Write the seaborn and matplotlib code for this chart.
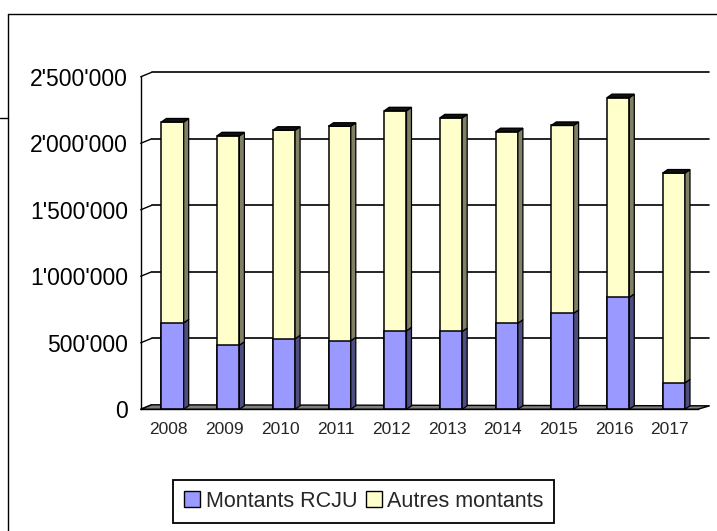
import matplotlib
matplotlib.use("Agg")
import matplotlib.pyplot as plt
import matplotlib.patches as mpatches
from matplotlib.lines import Line2D
from matplotlib.transforms import ScaledTranslation
import pandas as pd
import seaborn as sns

# DATA
years = ["2008", "2009", "2010", "2011", "2012", "2013", "2014", "2015", "2016", "2017"]
montants_rcju = [650000, 482000, 530000, 515000, 590000, 585000, 647000, 721000, 841000, 199000]
autres_montants = [1510000, 1574000, 1568000, 1613000, 1654000, 1606000, 1440000, 1413000, 1502000, 1577000]
y_ticks = [0, 500000, 1000000, 1500000, 2000000, 2500000]
series_names = ["Montants RCJU", "Autres montants"]

blue = "#9999ff"
yellow = "#ffffcc"
blue_side = "#4d4d80"
yellow_side = "#808066"

sns.set_style("white")
plt.rcParams["font.family"] = ["Liberation Sans", "DejaVu Sans"]

df = pd.DataFrame({"year": years, "rcju": montants_rcju, "autres": autres_montants})
df["total"] = df["rcju"] + df["autres"]

fig = plt.figure(figsize=(7.17, 5.31), dpi=100)
ax = fig.add_axes([0.19623, 0.22919, 0.77685, 0.62618])

# stacked bars: totals first (yellow), RCJU part on top (blue)
sns.barplot(data=df, x="year", y="total", order=years, color=yellow, saturation=1,
            width=0.4, edgecolor="black", linewidth=1.1, ax=ax, zorder=3)
n_yellow = len(ax.patches)
sns.barplot(data=df, x="year", y="rcju", order=years, color=blue, saturation=1,
            width=0.4, edgecolor="black", linewidth=1.1, ax=ax, zorder=3)

ax.set_xlim(-0.5, len(years) - 0.5)
ax.set_ylim(0, 2500000)
ax.set_xlabel("")
ax.set_ylabel("")

# ticks
ax.set_yticks(y_ticks)
ax.set_yticklabels([f"{v:,}".replace(",", "'") for v in y_ticks], fontsize=16.5)
ax.tick_params(axis="y", length=5.8, width=1.0, pad=3.2, colors="black")
ax.set_xticks(range(len(years)))
ax.set_xticklabels(years, fontsize=12.5)
ax.set_xticks([i - 0.5 for i in range(len(years) + 1)], minor=True)
ax.tick_params(axis="x", which="major", length=0, pad=9)
ax.tick_params(axis="x", which="minor", length=4.5, width=1.0, color="black")

for s in ["top", "right"]:
    ax.spines[s].set_visible(False)
for s in ["left", "bottom"]:
    ax.spines[s].set_color("black")
    ax.spines[s].set_linewidth(1.0)
    ax.spines[s].set_zorder(4)

# 3D look (pixel offsets)
dpi = fig.dpi
wall_dx, wall_dy = 11, 4.5
bar_dx, bar_dy = 5, 3.5
shift = ScaledTranslation(4 / dpi, 0, fig.dpi_scale_trans)


def px(x, y):
    return ax.transData.transform((x, y))


x0, x1 = ax.get_xlim()
# back wall gridlines and left wall slants
for v in y_ticks:
    fx0, fy = px(x0, v)
    fx1, _ = px(x1, v)
    if v > 0:
        ax.add_line(Line2D([fx0 + wall_dx, fx1 + wall_dx], [fy + wall_dy, fy + wall_dy],
                           transform=None, color="black", lw=1.2, zorder=1, clip_on=False))
    ax.add_line(Line2D([fx0, fx0 + wall_dx], [fy, fy + wall_dy],
                       transform=None, color="black", lw=1.0, zorder=1, clip_on=False))

# floor
fx0, fy = px(x0, 0)
fx1, _ = px(x1, 0)
floor = mpatches.Polygon([(fx0, fy), (fx1, fy), (fx1 + wall_dx + 1, fy + wall_dy - 1),
                          (fx0 + wall_dx, fy + wall_dy)], closed=True, transform=None,
                         facecolor="#808080", edgecolor="black", lw=1.0, zorder=2, clip_on=False)
ax.add_patch(floor)

# shift bars and add side / top faces
yellow_bars = ax.patches[:n_yellow]
blue_bars = ax.patches[n_yellow:n_yellow + len(years)]
for yb, bb in zip(yellow_bars, blue_bars):
    for p in (yb, bb):
        p.set_transform(ax.transData + shift)
    bx0, by0 = (ax.transData + shift).transform((bb.get_x(), 0))
    bx1, bmid = (ax.transData + shift).transform((bb.get_x() + bb.get_width(), bb.get_height()))
    _, btop = (ax.transData + shift).transform((0, yb.get_height()))
    for lo, hi, col in [(by0, bmid, blue_side), (bmid, btop, yellow_side)]:
        side = mpatches.Polygon([(bx1, lo), (bx1 + bar_dx, lo + bar_dy), (bx1 + bar_dx, hi + bar_dy),
                                 (bx1, hi)], closed=True, transform=None, facecolor=col,
                                edgecolor="black", lw=0.9, zorder=3, clip_on=False)
        ax.add_patch(side)
    top = mpatches.Polygon([(bx0, btop), (bx1, btop), (bx1 + bar_dx, btop + bar_dy),
                            (bx0 + bar_dx, btop + bar_dy)], closed=True, transform=None,
                           facecolor="#111111", edgecolor="black", lw=1.0, zorder=3, clip_on=False)
    ax.add_patch(top)

# legend
handles = [mpatches.Patch(facecolor=blue, edgecolor="black", lw=1.0),
           mpatches.Patch(facecolor=yellow, edgecolor="black", lw=1.0)]
leg = fig.legend(handles, series_names, loc="center", bbox_to_anchor=(0.5075, 0.0559),
                 ncol=2, frameon=True, fancybox=False, shadow=False, framealpha=1,
                 edgecolor="black", fontsize=15.5, handlelength=0.75, handleheight=0.75,
                 handletextpad=0.25, columnspacing=0.4, borderpad=0.5)
leg.get_frame().set_linewidth(1.3)

# chart area border
bx = 7.7 / 717
by = 1 - 14.3 / 531
fig.add_artist(Line2D([bx, bx], [0, by], transform=fig.transFigure, color="black", lw=1.0))
fig.add_artist(Line2D([bx, 1], [by, by], transform=fig.transFigure, color="black", lw=1.0))
fig.add_artist(Line2D([0, bx], [1 - 118 / 531, 1 - 118 / 531], transform=fig.transFigure,
                      color="black", lw=1.0))

fig.savefig("out.png", dpi=100)
